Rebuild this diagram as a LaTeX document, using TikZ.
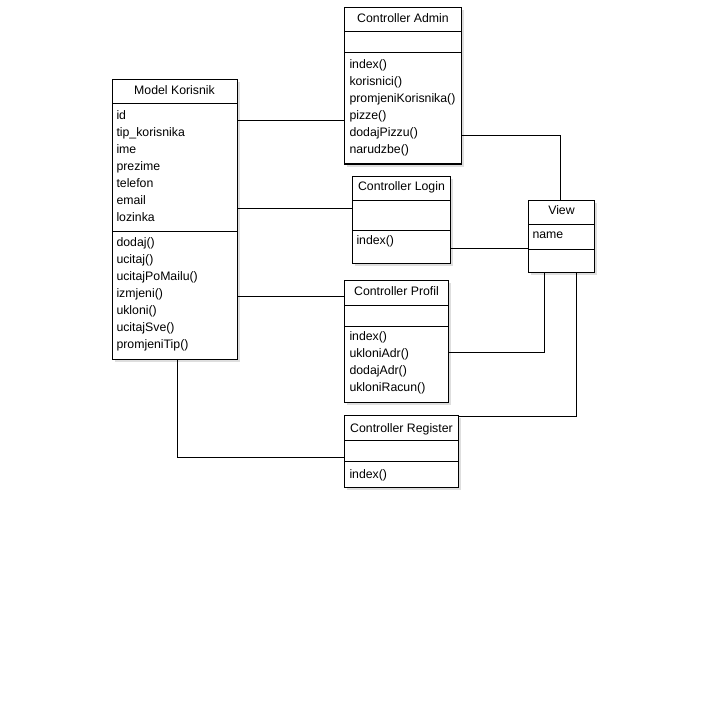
\documentclass[tikz,border=0pt]{standalone}
\usepackage{fontspec}
\setmainfont{Liberation Sans}
\usetikzlibrary{calc}
\begin{document}
\begin{tikzpicture}[x=1pt,y=-1pt,
  font=\fontsize{12.3}{14}\selectfont,
  line width=1pt,
  cls/.style={draw=black, fill=white, anchor=north west, inner sep=0pt, outer sep=0pt},
  shadowbox/.style={fill=black!13, draw=none},
  txt/.style={anchor=base west, inner sep=0pt},
  hdr/.style={anchor=base, inner sep=0pt},
  conn/.style={draw=black, line width=1pt}]
\useasboundingbox (0,0) rectangle (724,709);
\fill[white] (0,0) rectangle (724,709);

% ---------- class boxes ----------
% Model Korisnik
\fill[shadowbox] (114.5,82.5) rectangle (239.5,361.5);
\node[cls, minimum width=125pt, minimum height=279pt] (model) at (112,80) {};
\draw ($(model.north west)+(0,24)$) -- ($(model.north east)+(0,24)$);
\draw ($(model.north west)+(0,151)$) -- ($(model.north east)+(0,151)$);
\node[hdr] (modelh) at (174.5,95) {Model Korisnik};
\foreach \t [count=\i] in {id,tip\_korisnika,ime,prezime,telefon,email,lozinka}
  \node[txt] (ma\i) at (116,{119.3+17*(\i-1)}) {\t};
\foreach \t [count=\i] in {dodaj(),ucitaj(),ucitajPoMailu(),izmjeni(),ukloni(),ucitajSve(),promjeniTip()}
  \node[txt] (mm\i) at (116,{246.3+17*(\i-1)}) {\t};

% Controller Admin
\fill[shadowbox] (346.5,10.5) rectangle (463.5,166.5);
\node[cls, minimum width=117pt, minimum height=156pt] (admin) at (344,8) {};
\draw ($(admin.north west)+(0,24)$) -- ($(admin.north east)+(0,24)$);
\draw ($(admin.north west)+(0,45)$) -- ($(admin.north east)+(0,45)$);
\node[hdr] (adminh) at (403,22.3) {Controller Admin};
\foreach \t [count=\i] in {index(),korisnici(),promjeniKorisnika(),pizze(),dodajPizzu(),narudzbe()}
  \node[txt] (am\i) at (349,{68.3+17*(\i-1)}) {\t};

% Controller Login
\fill[shadowbox] (355,178.5) rectangle (453,265.5);
\node[cls, minimum width=98pt, minimum height=87pt] (login) at (352.5,176) {};
\draw ($(login.north west)+(0,24)$) -- ($(login.north east)+(0,24)$);
\draw ($(login.north west)+(0,54)$) -- ($(login.north east)+(0,54)$);
\node[hdr] (loginh) at (401.5,190.8) {Controller Login};
\node[txt] (lm1) at (356,244.6) {index()};

% View
\fill[shadowbox] (531,202.5) rectangle (597,274.5);
\node[cls, minimum width=66pt, minimum height=72pt] (view) at (528.5,200) {};
\draw ($(view.north west)+(0,24)$) -- ($(view.north east)+(0,24)$);
\draw ($(view.north west)+(0,49)$) -- ($(view.north east)+(0,49)$);
\node[hdr] (viewh) at (561.5,214.6) {View};
\node[txt] (va1) at (532,238.6) {name};

% Controller Profil
\fill[shadowbox] (346.5,282.5) rectangle (450.5,404.5);
\node[cls, minimum width=104pt, minimum height=122pt] (profil) at (344,280) {};
\draw ($(profil.north west)+(0,25)$) -- ($(profil.north east)+(0,25)$);
\draw ($(profil.north west)+(0,46)$) -- ($(profil.north east)+(0,46)$);
\node[hdr] (profilh) at (396.5,295.3) {Controller Profil};
\foreach \t [count=\i] in {index(),ukloniAdr(),dodajAdr(),ukloniRacun()}
  \node[txt] (pm\i) at (349,{340.6+17*(\i-1)}) {\t};

% Controller Register
\fill[shadowbox] (346.5,417.5) rectangle (461,490);
\node[cls, minimum width=114.5pt, minimum height=72pt] (register) at (344,415.5) {};
\draw ($(register.north west)+(0,25)$) -- ($(register.north east)+(0,25)$);
\draw ($(register.north west)+(0,45.5)$) -- ($(register.north east)+(0,45.5)$);
\node[hdr] (registerh) at (401.5,432) {Controller Register};
\node[txt] (rm1) at (349,478.3) {index()};

% ---------- connectors ----------
\coordinate (c1) at ($(model.north east)+(0,41)$);
\draw[conn] (c1) -- (c1 -| admin.west);
\coordinate (c2) at ($(model.north east)+(0,128)$);
\draw[conn] (c2) -- (c2 -| login.west);
\coordinate (c3) at ($(model.north east)+(0,216)$);
\draw[conn] (c3) -- (c3 -| profil.west);
\coordinate (c4) at ($(model.south west)+(65,0)$);
\coordinate (r4) at ($(register.north west)+(0,41.5)$);
\draw[conn] (c4) |- (r4);
\coordinate (c5) at ($(admin.north east)+(0,128)$);
\coordinate (v5) at ($(view.north west)+(31.5,0)$);
\draw[conn] (c5) -| (v5);
\coordinate (c6) at ($(login.north east)+(0,72)$);
\draw[conn] (c6) -- (c6 -| view.west);
\coordinate (c7) at ($(view.south west)+(16,0)$);
\coordinate (p7) at ($(profil.north east)+(0,72)$);
\draw[conn] (c7) |- (p7);
\coordinate (c8) at ($(view.south west)+(47.5,0)$);
\coordinate (r8) at ($(register.north east)+(0,0.5)$);
\draw[conn] (c8) |- (r8);
\end{tikzpicture}
\end{document}
